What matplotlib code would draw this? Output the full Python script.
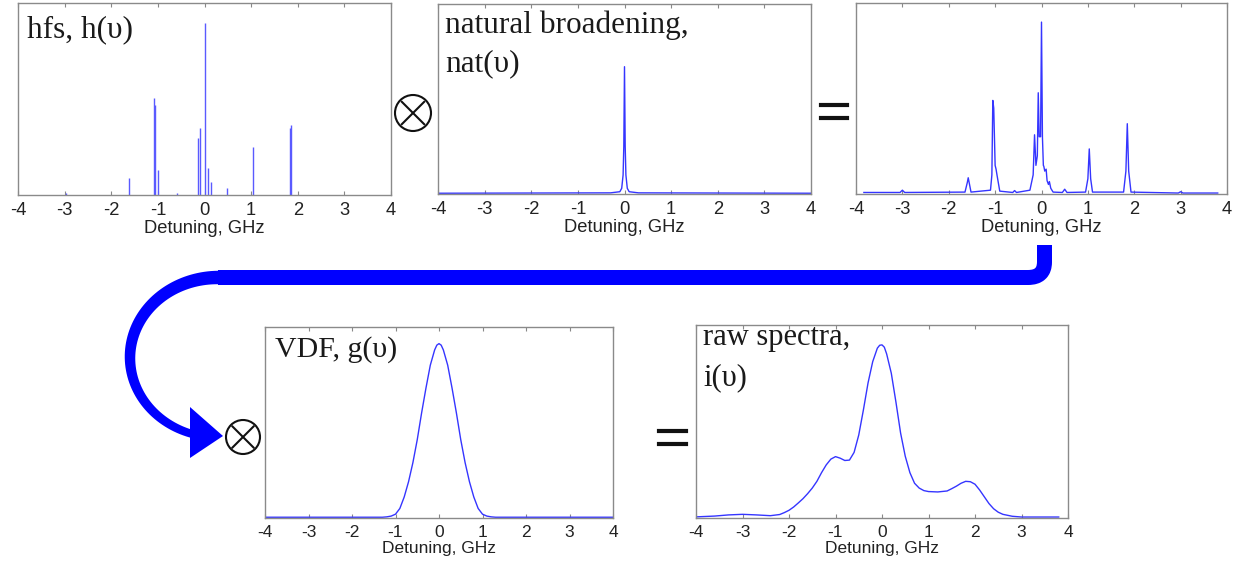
import numpy as np
import matplotlib
matplotlib.use("Agg")
import matplotlib.pyplot as plt
from matplotlib.path import Path
from matplotlib.patches import PathPatch, Polygon, Circle

plt.rcParams['axes.unicode_minus'] = False
plt.rcParams['font.family'] = ['Liberation Sans', 'DejaVu Sans']

# ---- data (heights as fraction of each panel's height) ----
# hyperfine structure sticks
hfs_pos = [-2.97, -1.61, -1.075, -1.06, -0.99, -0.59, -0.143, -0.107, 0.0, 0.07, 0.15, 0.48, 1.03, 1.84, 1.855]
hfs_amp = [0.01, 0.09, 0.506, 0.47, 0.13, 0.01, 0.296, 0.35, 0.896, 0.143, 0.069, 0.036, 0.248, 0.35, 0.367]

# natural broadening (lorentzian line)
nat_x = [-4, -0.3, -0.1, -0.06, -0.03, -0.015, 0.0, 0.015, 0.03, 0.06, 0.1, 0.3, 4]
nat_y = [0.004, 0.006, 0.012, 0.03, 0.1, 0.25, 0.67, 0.25, 0.1, 0.03, 0.012, 0.006, 0.004]

# hfs convolved with natural broadening
conv_x = [-3.83, -3.05, -3.0, -2.95, -1.65, -1.6, -1.58, -1.56, -1.52, -1.1, -1.07, -1.05, -1.03,
          -1.0, -0.98, -0.96, -0.9, -0.62, -0.58, -0.54, -0.25, -0.18, -0.15, -0.12, -0.09, -0.07,
          -0.05, -0.02, 0.0, 0.02, 0.04, 0.05, 0.07, 0.1, 0.12, 0.15, 0.17, 0.2, 0.25, 0.45, 0.5,
          0.55, 0.95, 1.0, 1.03, 1.06, 1.1, 1.77, 1.82, 1.85, 1.88, 1.93, 2.95, 3.0, 3.05, 3.8]
conv_y = [0.008, 0.008, 0.02, 0.008, 0.01, 0.06, 0.085, 0.06, 0.01, 0.02, 0.1, 0.49, 0.45,
          0.15, 0.13, 0.1, 0.015, 0.008, 0.018, 0.008, 0.02, 0.1, 0.31, 0.15, 0.2, 0.53,
          0.3, 0.3, 0.90, 0.3, 0.15, 0.145, 0.12, 0.13, 0.07, 0.05, 0.065, 0.03, 0.01, 0.008, 0.025,
          0.008, 0.01, 0.08, 0.236, 0.08, 0.01, 0.01, 0.12, 0.368, 0.12, 0.01, 0.005, 0.012, 0.005, 0.005]

# velocity distribution function
vdf_x = [-4, -1.3, -1.2, -1.1, -1.0, -0.9, -0.8, -0.7, -0.6, -0.5, -0.4, -0.3, -0.2, -0.1, -0.05, 0.0,
         0.05, 0.1, 0.2, 0.3, 0.4, 0.5, 0.6, 0.7, 0.8, 0.9, 1.0, 1.1, 1.2, 1.3, 4]
vdf_y = [0.004, 0.004, 0.006, 0.01, 0.02, 0.05, 0.11, 0.19, 0.29, 0.41, 0.55, 0.68, 0.80, 0.88, 0.905, 0.913,
         0.905, 0.88, 0.80, 0.68, 0.55, 0.41, 0.29, 0.19, 0.11, 0.05, 0.02, 0.01, 0.006, 0.004, 0.004]

# raw spectrum
raw_x = [-3.98, -3.6, -3.3, -3.0, -2.7, -2.4, -2.2, -2.1, -2.0, -1.9, -1.8, -1.7, -1.6, -1.5, -1.4,
         -1.3, -1.2, -1.1, -1.0, -0.9, -0.8, -0.7, -0.6, -0.5, -0.4, -0.3, -0.2, -0.1, -0.05, 0.0,
         0.05, 0.1, 0.2, 0.3, 0.4, 0.5, 0.6, 0.7, 0.8, 0.9, 1.0, 1.2, 1.4, 1.5, 1.6, 1.7, 1.8, 1.9,
         2.0, 2.1, 2.2, 2.3, 2.4, 2.5, 2.6, 2.8, 3.0, 3.8]
raw_y = [0.006, 0.01, 0.016, 0.019, 0.016, 0.012, 0.018, 0.028, 0.04, 0.057, 0.078, 0.1, 0.126, 0.155, 0.19,
         0.235, 0.275, 0.305, 0.318, 0.31, 0.298, 0.3, 0.34, 0.43, 0.56, 0.70, 0.81, 0.88, 0.895, 0.897,
         0.885, 0.85, 0.75, 0.60, 0.44, 0.32, 0.235, 0.18, 0.155, 0.142, 0.137, 0.135, 0.14, 0.152, 0.165, 0.18, 0.19, 0.188,
         0.175, 0.145, 0.11, 0.075, 0.048, 0.03, 0.019, 0.009, 0.005, 0.005]

ticks = [-4, -3, -2, -1, 0, 1, 2, 3, 4]
W, H = 1236, 562
blue = '#3535ff'

fig = plt.figure(figsize=(W / 100, H / 100), dpi=100)


def panel(l, r, t, b, tsize):
    ax = fig.add_axes([l / W, (H - b) / H, (r - l) / W, (b - t) / H])
    ax.set_xlim(-4, 4)
    ax.set_ylim(0, 1)
    ax.set_yticks([])
    ax.set_xticks(ticks)
    ax.tick_params(axis='x', direction='in', length=3, top=True, color='#888888',
                   labelsize=tsize, labelcolor='#222222', pad=5)
    for s in ax.spines.values():
        s.set_color('#8a8a8a')
        s.set_linewidth(1.0)
    ax.set_xlabel('Detuning, GHz', fontsize=tsize, color='#222222', labelpad=1)
    return ax


def title(ax, x, y, s, size=22.5):
    ax.text(x, y, s, transform=ax.transAxes, fontsize=size, family='Liberation Serif',
            color='#1a1a1a', va='baseline', ha='left')


ax1 = panel(18, 391, 3, 195, 13.2)
ax1.vlines(hfs_pos, 0, hfs_amp, color='#5a5aff', lw=1.0)
title(ax1, 0.024, 0.823, 'hfs, h(υ)')

ax2 = panel(438, 811, 4, 194, 13.2)
ax2.plot(nat_x, nat_y, color=blue, lw=1.0)
title(ax2, 0.019, 0.847, 'natural broadening,')
title(ax2, 0.019, 0.647, 'nat(υ)')

ax3 = panel(856, 1227, 3, 194, 13.2)
ax3.plot(conv_x, conv_y, color=blue, lw=1.0)

ax4 = panel(265, 613, 327, 518, 12.5)
ax4.plot(vdf_x, vdf_y, color=blue, lw=1.0)
title(ax4, 0.029, 0.843, 'VDF, g(υ)', 21.5)

ax5 = panel(696, 1068, 325, 518, 12.5)
ax5.plot(raw_x, raw_y, color=blue, lw=1.0)
title(ax5, 0.019, 0.896, 'raw spectra,', 22)
title(ax5, 0.019, 0.689, 'i(υ)', 22)

# ---- overlay in pixel coordinates for arrows and operators ----
ov = fig.add_axes([0, 0, 1, 1], zorder=-1)
ov.set_xlim(0, W)
ov.set_ylim(H, 0)
ov.axis('off')
ov.patch.set_alpha(0)

arrow_blue = '#0000ff'
bar = Path([(218, 277.5), (1028, 277.5), (1044.5, 277.5), (1044.5, 262), (1044.5, 245)],
           [Path.MOVETO, Path.LINETO, Path.CURVE3, Path.CURVE3, Path.LINETO])
ov.add_patch(PathPatch(bar, fill=False, edgecolor=arrow_blue, lw=15 * 0.72, capstyle='butt', joinstyle='round'))

t = np.radians(np.linspace(90, 256, 80))
w = np.linspace(13.5, 8, t.size)
cx, cy, rx, ry = 218, 357.5, 88, 80
outer = np.column_stack([cx + (rx + w / 2) * np.cos(t), cy - (ry + w / 2) * np.sin(t)])
inner = np.column_stack([cx + (rx - w / 2) * np.cos(t), cy - (ry - w / 2) * np.sin(t)])
ov.add_patch(Polygon(np.vstack([outer, inner[::-1]]), closed=True, color=arrow_blue, lw=0))
ov.add_patch(Polygon([(190, 407), (190, 458), (223, 436)], closed=True, color=arrow_blue, lw=0))


def otimes(x, y, r):
    ov.add_patch(Circle((x, y), r, fill=False, edgecolor='#111111', lw=1.5))
    d = r * 0.62
    ov.plot([x - d, x + d], [y - d, y + d], color='#111111', lw=1.5)
    ov.plot([x - d, x + d], [y + d, y - d], color='#111111', lw=1.5)


def equals(x0, x1, y0, y1):
    ov.plot([x0, x1], [y0, y0], color='#111111', lw=3)
    ov.plot([x0, x1], [y1, y1], color='#111111', lw=3)


otimes(413, 113, 18)
otimes(243, 437, 17)
equals(821, 847, 105, 118)
equals(659, 686, 431, 444)

fig.savefig('out.png', dpi=100, facecolor='white')
